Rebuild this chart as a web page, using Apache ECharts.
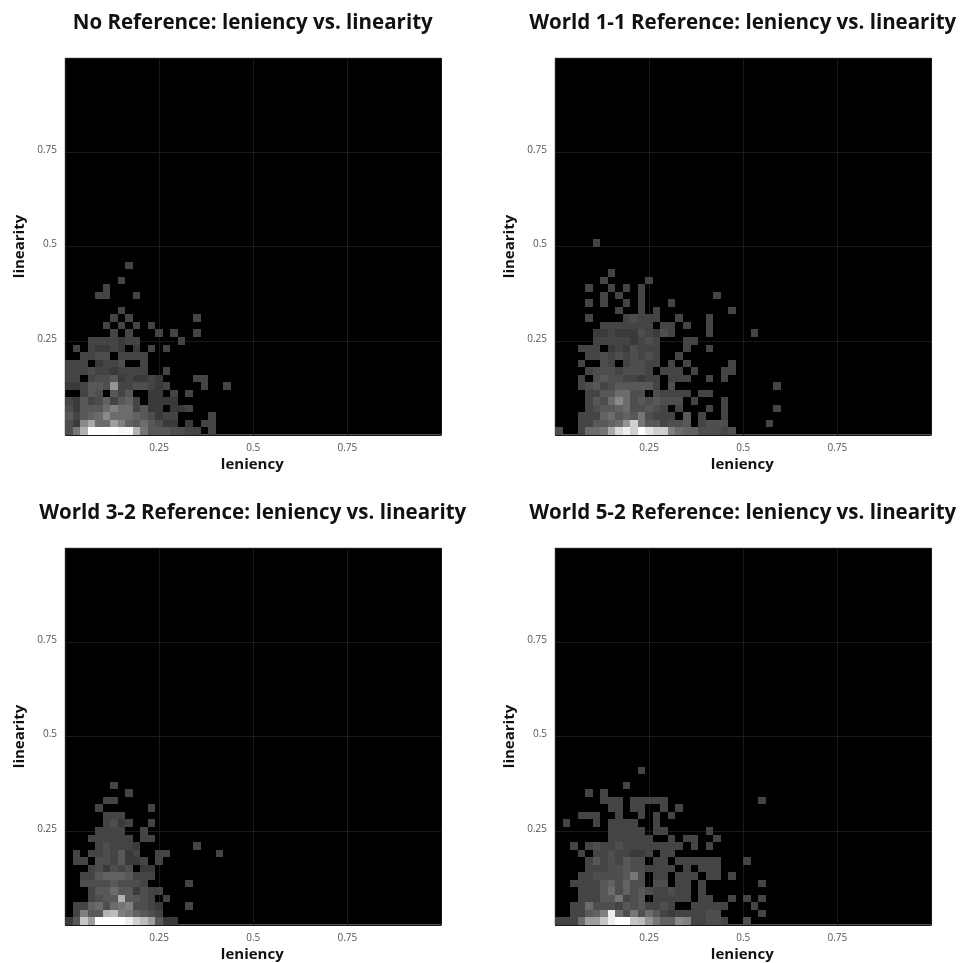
<!DOCTYPE html>
<html><head><meta charset="utf-8"><style>html,body{margin:0;padding:0;background:#fff}#c{width:962px;height:963px}</style>
<script src="https://cdn.jsdelivr.net/npm/echarts@6/dist/echarts.min.js"></script></head><body><div id="c"></div>
<script>
const titles = ["No Reference: leniency vs. linearity","World 1-1 Reference: leniency vs. linearity","World 3-2 Reference: leniency vs. linearity","World 5-2 Reference: leniency vs. linearity"];
const tickLabels = [0.25,0.5,0.75];
const binSize = 0.02;
// Each row is a bin of linearity (bottom row first), each entry a bin of leniency; value = brightness / 10
const noReference = [
[7,11,17,25,25,25,25,24,24,17,11,8,8,8,7,7,6,6,0,6],
[7,5,13,16,10,10,15,12,9,8,10,8,7,5,5,0,5,0,6,6],
[8,6,8,9,10,13,10,10,10,9,8,7,5,6,6,0,0,0,0,6],
[7,5,8,8,8,10,12,10,10,6,8,5,5,0,5,5,6],
[6,5,8,6,7,9,6,8,9,6,0,5,5,5,5],
[0,0,6,8,7,0,8,6,8,0,0,5,5,0,6,0,6],
[5,5,6,8,8,7,14,6,6,7,7,6,5,6,0,0,0,0,6,0,0,6],
[6,6,0,6,7,7,8,5,6,5,5,6,5,0,0,0,0,6,6],
[6,6,6,7,6,6,5,6,6,6,6,0,0,6],
[6,6,6,0,5,6,6,7,0,0,6],
[0,0,6,6,7,7,0,6,6,6,6],
[0,6,0,6,5,5,6,5,0,5,0,6,0,6],
[0,0,0,6,6,6,6,5,6,6,0,0,0,0,0,6],
[0,0,0,0,0,0,6,0,6,0,0,0,6,0,6,0,0,6],
[0,0,0,0,0,6,0,6,0,6,0,6],
[0,0,0,0,0,0,6,0,6,0,0,0,0,0,0,0,0,6],
[0,0,0,0,0,0,0,6],
[],
[0,0,0,0,6,6,0,0,0,6],
[0,0,0,0,0,6],
[0,0,0,0,0,0,0,6],
[],
[0,0,0,0,0,0,0,0,6]
];
const world11 = [
[7,0,0,6,10,10,11,16,21,23,20,25,22,20,20,12,10,9,9,7,7,7,6,7],
[0,0,0,6,6,8,8,9,10,14,20,11,8,8,6,7,7,8,0,6,7,7,7,0,0,0,0,0,6],
[0,0,0,6,6,6,9,10,8,9,8,11,7,6,6,6,0,8,0,6,0,0,6],
[0,0,0,0,6,7,8,8,9,10,7,7,8,7,6,0,6,0,0,0,6,0,6,0,0,0,0,0,0,6],
[0,0,0,0,6,8,7,10,13,10,7,8,7,8,7,7,7,0,6,0,0,0,6],
[0,0,0,0,6,6,8,8,10,10,7,7,0,7,6,6,6,6,0,6,6],
[0,0,0,6,7,8,6,7,8,8,8,8,8,6,0,7,0,0,0,0,0,0,0,0,0,0,0,0,0,6],
[0,0,0,6,0,7,8,7,7,6,6,5,6,6,0,6,6,6,0,0,6,0,6],
[0,0,0,0,6,7,7,7,6,7,7,7,6,0,6,6,6,0,6,0,0,0,6,6],
[0,0,0,6,0,0,7,6,0,6,7,7,6,6,0,6,0,6,0,0,0,0,0,6],
[0,0,0,0,6,6,7,6,7,6,7,6,7,6,0,0,6],
[0,0,0,6,6,6,0,5,6,5,7,6,6,6,0,0,0,6,0,0,6],
[0,0,0,0,0,6,6,6,6,6,5,6,7,6,0,0,0,6,6],
[0,0,0,0,0,5,5,6,5,5,5,7,6,5,7,6,0,0,0,0,6,0,0,0,0,0,6],
[0,0,0,0,0,0,6,6,6,6,6,6,6,0,6,6,0,6,0,0,6],
[0,0,0,0,6,0,0,0,0,6,7,6,6,6,0,0,6,0,0,0,6],
[0,0,0,0,0,0,0,0,6,0,0,6,0,6,0,0,0,0,0,0,0,0,0,6],
[0,0,0,0,6,0,6,0,0,6,0,6,0,0,0,6],
[0,0,0,0,0,0,6,0,6,0,0,6,0,0,0,0,0,0,0,0,0,6],
[0,0,0,0,6,0,0,6,0,6,0,6],
[0,0,0,0,0,0,6,0,0,0,0,0,6],
[0,0,0,0,0,0,0,6],
[],
[],
[],
[0,0,0,0,0,6]
];
const world32 = [
[5,8,19,15,25,25,25,25,23,20,18,15,8,5,5],
[0,6,12,8,8,17,18,12,11,9,8,7,6],
[0,6,6,9,10,7,10,11,12,7,7,6,5,0,0,0,6],
[0,0,0,6,7,8,8,17,8,8,7,6,0,6],
[0,0,0,6,8,8,10,8,8,5,7,6,6],
[0,0,7,7,7,7,8,7,7,7,6,0,0,0,0,0,6],
[0,0,6,6,8,9,9,9,8,6,6,6],
[0,0,0,6,7,5,7,6,7,0,5,5],
[0,6,6,0,7,7,6,8,5,5,6,0,6],
[0,6,0,6,6,7,6,8,5,6,0,0,6,6,0,0,0,0,0,0,6],
[0,0,0,0,6,7,6,6,6,5,0,0,0,0,0,0,0,6],
[0,0,0,6,6,6,6,6,6,0,6,6],
[0,0,0,0,6,6,6,6,0,0,6],
[0,0,0,0,0,6,7,5,6,0,0,6],
[0,0,0,0,0,6,6,6],
[0,0,0,0,6,0,0,0,0,0,0,6],
[0,0,0,0,0,6,6],
[0,0,0,0,0,0,0,0,6],
[0,0,0,0,0,0,6]
];
const world52 = [
[6,6,6,10,15,15,19,23,25,25,19,18,14,11,9,9,13,12,6,6,7,7,6,0,0,7],
[0,0,6,6,8,9,12,23,10,7,11,7,10,8,6,5,6,6,6,6,7,7,0,0,0,0,0,6],
[0,0,6,6,10,7,7,7,6,8,7,8,6,6,7,6,0,0,6,6,6,6,6,0,0,0,6],
[0,0,0,6,6,6,8,8,11,6,7,8,0,6,6,6,6,6,0,6,6,0,0,6,0,6,0,6],
[0,0,0,6,6,6,8,10,7,9,7,8,7,6,6,7,6,6,0,6],
[0,0,6,6,6,6,8,9,7,9,7,7,0,7,7,0,6,6,0,6,0,0,0,0,0,0,0,6],
[0,0,0,6,6,7,7,7,7,8,11,7,0,6,6,0,6,6,6,0,6,6,0,6],
[0,0,0,0,6,6,6,7,7,8,7,7,6,6,6,6,0,6,0,6,6,6],
[0,0,0,0,6,8,6,7,6,8,7,7,0,6,6,0,6,6,6,6,6,6,0,0,0,6],
[0,0,0,6,0,6,6,7,6,6,5,5,6,0,6,6],
[0,0,6,0,6,7,6,6,7,6,6,6,6,6,6,6,6,0,6,0,6],
[0,0,0,0,0,0,0,6,6,6,6,6,6,0,0,6,0,6,6,0,0,6],
[0,0,0,0,0,0,0,6,6,6,6,6,0,6,6,0,0,0,0,0,6],
[0,6,0,0,0,6,0,6,6,6,6,0,0,6],
[0,0,0,6,6,6,0,0,6,0,0,6,0,6,0,6],
[0,0,0,0,0,0,0,6,6,0,6,6,0,0,6,0,6],
[0,0,0,0,0,0,6,6,6,0,6,6,6,6,6,0,0,0,0,0,0,0,0,0,0,0,0,6],
[0,0,0,0,6,0,6],
[0,0,0,0,0,0,0,0,0,6],
[],
[0,0,0,0,0,0,0,0,0,0,0,6]
];
const panels = [noReference, world11, world32, world52];
const lefts = [65,555,65,555], tops = [58,58,548,548];
const W = 376.5, H = 377;
const FONT = '"Open Sans", sans-serif';

const toCells = rows => rows.flatMap((row, r) => row.map((v, c) => [c, r, v]).filter(d => d[2] > 0));

const option = {
  animation: false, backgroundColor: '#fff',
  title: titles.map((t, i) => ({
    text: t, left: lefts[i] + W / 2 - 5.5, top: tops[i] - 50, textAlign: 'center',
    textStyle: {fontFamily: FONT, fontWeight: 'bold', fontSize: 20.5, color: '#111'}
  })),
  grid: panels.map((_, i) => ({left: lefts[i], top: tops[i], width: W, height: H, show: true, backgroundColor: '#000', borderColor: '#a8a8a8', borderWidth: 1})),
  xAxis: panels.map((_, i) => ({
    type: 'value', gridIndex: i, min: 0, max: 1, interval: 0.25,
    name: 'leniency', nameLocation: 'middle', nameGap: 22,
    nameTextStyle: {fontFamily: FONT, fontWeight: 'bold', fontSize: 15, color: '#111', padding: [0,2,0,0]},
    axisLine: {show: false}, axisTick: {show: false},
    splitLine: {show: true, lineStyle: {color: '#1a1a1a', width: 1}},
    axisLabel: {margin: 8, fontFamily: FONT, fontSize: 10, color: '#555', formatter: v => tickLabels.includes(v) ? String(v) : ''}
  })),
  yAxis: panels.map((_, i) => ({
    type: 'value', gridIndex: i, min: 0, max: 1, interval: 0.25,
    name: 'linearity', nameLocation: 'middle', nameGap: 38, nameRotate: 90,
    nameTextStyle: {fontFamily: FONT, fontWeight: 'bold', fontSize: 15, color: '#111'},
    axisLine: {show: false}, axisTick: {show: false},
    splitLine: {show: true, lineStyle: {color: '#1a1a1a', width: 1}},
    axisLabel: {margin: 8, fontFamily: FONT, fontSize: 10, color: '#555', verticalAlign: 'bottom', lineHeight: 4, formatter: v => tickLabels.includes(v) ? String(v) : ''}
  })),
  series: panels.map((rows, i) => ({
    type: 'custom', xAxisIndex: i, yAxisIndex: i, coordinateSystem: 'cartesian2d',
    data: toCells(rows), silent: true, clip: true,
    encode: {x: 0, y: 1},
    renderItem: (params, api) => {
      const c = api.value(0), r = api.value(1), v = api.value(2);
      const p0 = api.coord([c * binSize, (r + 1) * binSize]).map(Math.round);
      const p1 = api.coord([(c + 1) * binSize, r * binSize]).map(Math.round);
      const g = Math.min(255, v * 10 + 8);
      return {type: 'rect', shape: {x: p0[0], y: p0[1], width: p1[0] - p0[0], height: p1[1] - p0[1]}, style: {fill: `rgb(${g},${g},${g})`}};
    }
  }))
};
echarts.init(document.getElementById('c'), null, {renderer: 'canvas'}).setOption(option);
</script></body></html>
